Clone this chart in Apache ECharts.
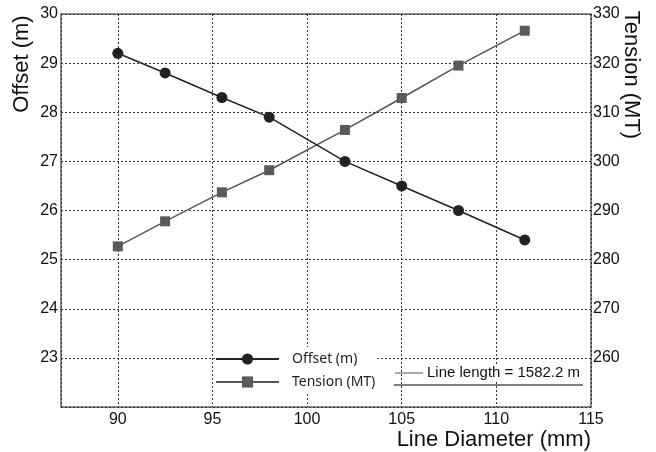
<!DOCTYPE html>
<html>
<head>
<meta charset="utf-8">
<script src="https://cdn.jsdelivr.net/npm/echarts@6/dist/echarts.min.js"></script>
<style>
  html, body { margin: 0; padding: 0; background: #fff; }
  #main { width: 656px; height: 452px; }
</style>
</head>
<body>
<div id="main"></div>
<script>
  // line diameter (mm)
  var diameters = [90, 92.5, 95.5, 98, 102, 105, 108, 111.5];
  // offset (m), left axis
  var offsetVals = [29.2, 28.8, 28.3, 27.9, 27.0, 26.5, 26.0, 25.4];
  // tension (MT), right axis
  var tensionVals = [282.7, 287.8, 293.7, 298.2, 306.4, 312.9, 319.5, 326.6];

  var offsetData = diameters.map(function (d, i) { return [d, offsetVals[i]]; });
  var tensionData = diameters.map(function (d, i) { return [d, tensionVals[i]]; });

  var font = "Liberation Sans, Arial, sans-serif";
  var gridLine = { show: true, lineStyle: { color: "#333", type: [2, 2], width: 1 } };

  var myChart = echarts.init(document.getElementById("main"));

  var option = {
    animation: false,
    backgroundColor: "#fff",
    grid: {
      left: 61, right: 65, top: 14, bottom: 45,
      show: true, borderColor: "#666", borderWidth: 1.5, backgroundColor: "transparent"
    },
    xAxis: {
      type: "value",
      min: 87,
      max: 115,
      axisLine: { show: false },
      axisTick: { show: false },
      splitLine: gridLine,
      axisLabel: {
        color: "#111", fontSize: 16, fontFamily: font, margin: 5,
        formatter: function (v) { return v % 5 === 0 ? v : ""; }
      }
    },
    yAxis: [
      {
        type: "value",
        min: 22, max: 30, interval: 1,
        axisLine: { show: false },
        axisTick: { show: false },
        splitLine: gridLine,
        axisLabel: {
          color: "#111", fontSize: 16, fontFamily: font, margin: 3,
          formatter: function (v) { return v === 22 ? "" : v; }
        }
      },
      {
        type: "value",
        min: 250, max: 330, interval: 10,
        position: "right",
        axisLine: { show: false },
        axisTick: { show: false },
        splitLine: { show: false },
        axisLabel: {
          color: "#111", fontSize: 16, fontFamily: font, margin: 2,
          formatter: function (v) { return v === 250 ? "" : v; }
        }
      }
    ],
    legend: {
      orient: "vertical",
      left: 215,
      top: 347,
      padding: [5, 2, 5, 0],
      itemGap: 9,
      itemWidth: 63,
      itemHeight: 14,
      backgroundColor: "#fff",
      textStyle: { color: "#222", fontSize: 14, fontFamily: "Noto Sans, sans-serif", padding: [0, 0, 0, 8] },
      data: ["Offset (m)", "Tension (MT)"]
    },
    series: [
      {
        name: "Tension (MT)",
        type: "line",
        yAxisIndex: 1,
        data: tensionData,
        symbol: "rect",
        symbolSize: 10,
        itemStyle: { color: "#5a5a5a" },
        lineStyle: { color: "#555", width: 1.5 }
      },
      {
        name: "Offset (m)",
        type: "line",
        yAxisIndex: 0,
        data: offsetData,
        symbol: "circle",
        symbolSize: 11,
        itemStyle: { color: "#222" },
        lineStyle: { color: "#222", width: 1.5 }
      }
    ],
    graphic: [
      {
        type: "text", x: 22, y: 64, rotation: Math.PI / 2,
        style: { text: "Offset (m)", fill: "#111", font: "22px " + font, textAlign: "center", textVerticalAlign: "middle" }
      },
      {
        type: "text", x: 631, y: 75, rotation: -Math.PI / 2,
        style: { text: "Tension (MT)", fill: "#111", font: "22px " + font, textAlign: "center", textVerticalAlign: "middle" }
      },
      {
        type: "text", x: 591, y: 440,
        style: { text: "Line Diameter (mm)", fill: "#111", font: "22px " + font, textAlign: "right", textVerticalAlign: "middle" }
      },
      {
        type: "rect", z: 5, shape: { x: 424, y: 364, width: 160, height: 18 },
        style: { fill: "#fff" }
      },
      {
        type: "text", x: 427, y: 373, z: 6,
        style: { text: "Line length = 1582.2 m", fill: "#111", font: "15px " + font, textAlign: "left", textVerticalAlign: "middle" }
      },
      {
        type: "line", z: 6, shape: { x1: 395, y1: 373, x2: 423, y2: 373 },
        style: { stroke: "#555", lineWidth: 1 }
      },
      {
        type: "line", z: 6, shape: { x1: 394, y1: 385, x2: 583, y2: 385 },
        style: { stroke: "#555", lineWidth: 1.5 }
      }
    ]
  };

  myChart.setOption(option);
</script>
</body>
</html>
